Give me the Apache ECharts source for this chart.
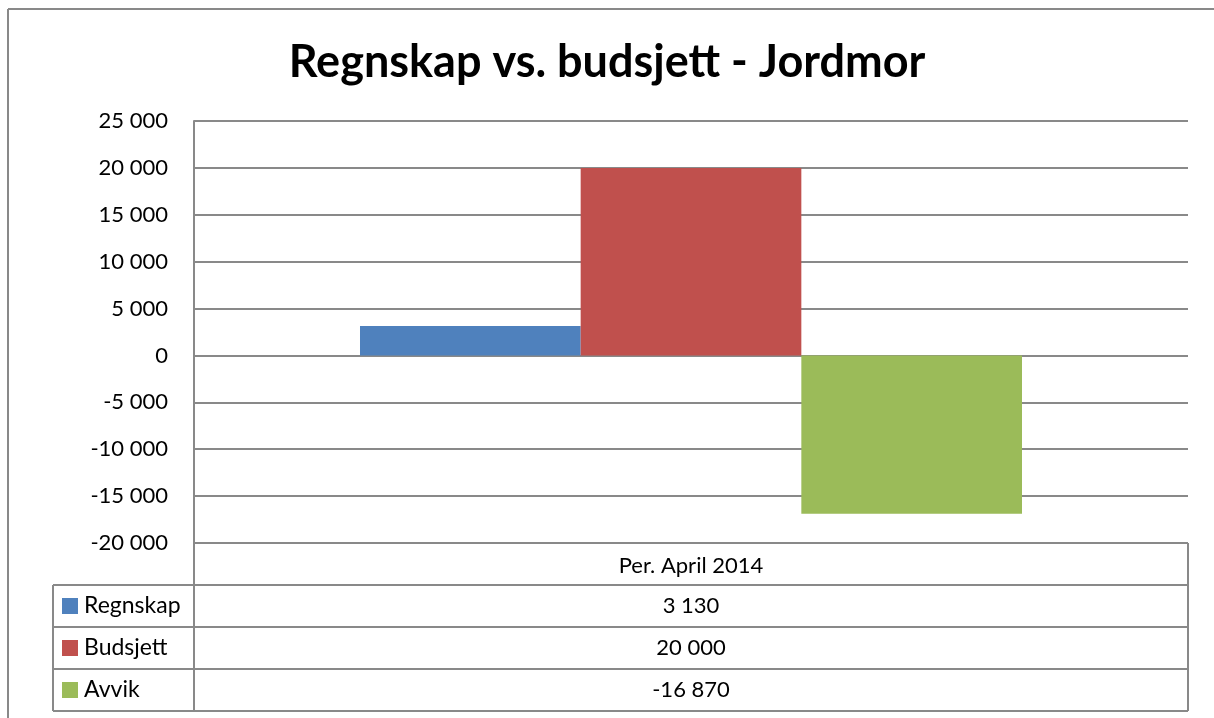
<!DOCTYPE html>
<html>
<head>
<meta charset="utf-8">
<script src="https://cdn.jsdelivr.net/npm/echarts@6/dist/echarts.min.js"></script>
<style>
  html, body { margin: 0; padding: 0; background: #fff; }
  #chart { width: 1214px; height: 718px; }
</style>
</head>
<body>
<div id="chart"></div>
<script>
// data
const categories = ['Per. April 2014']
const seriesNames = ['Regnskap', 'Budsjett', 'Avvik']
const regnskap = [3130]
const budsjett = [20000]
const avvik = [-16870]
const yTicks = [-20000, -15000, -10000, -5000, 0, 5000, 10000, 15000, 20000, 25000]

const colors = ['#4F81BD', '#C0504D', '#9BBB59']
const lineColor = '#898989'
const font = 'Lato, "Open Sans", sans-serif'

// layout (px)
const W = 1214, H = 718
const plotLeft = 194, plotRight = 1188, plotTop = 121, plotBottom = 543
const rowH = 42
const legendLeft = 53

// thousands with space separator, like the original
const fmt = (v) => {
  const s = String(Math.abs(v)).replace(/\B(?=(\d{3})+(?!\d))/g, ' ')
  return (v < 0 ? '-' : '') + s
}

const seriesData = [regnskap, budsjett, avvik]

// data table under the plot
const tableGraphics = []
const line = (x1, y1, x2, y2) => ({
  type: 'line',
  shape: { x1, y1, x2, y2 },
  style: { stroke: lineColor, lineWidth: 2 },
  silent: true
})
const tableTop = plotBottom
const tableBottom = tableTop + rowH * (seriesNames.length + 1)
// verticals
tableGraphics.push(line(plotLeft, tableTop, plotLeft, tableBottom))
tableGraphics.push(line(plotRight, tableTop, plotRight, tableBottom))
tableGraphics.push(line(legendLeft, tableTop + rowH, legendLeft, tableBottom))
// horizontals
for (let i = 1; i <= seriesNames.length + 1; i++) {
  const y = tableTop + rowH * i
  tableGraphics.push(line(legendLeft, y, plotRight, y))
}
seriesNames.forEach((name, i) => {
  const cy = tableTop + rowH * (i + 1) + rowH / 2
  tableGraphics.push({
    type: 'rect',
    shape: { x: legendLeft + 9, y: cy - 8, width: 16, height: 16 },
    style: { fill: colors[i] },
    silent: true
  })
  tableGraphics.push({
    type: 'text',
    x: legendLeft + 31, y: cy,
    style: { text: name, font: '23px ' + font, fill: '#000', textVerticalAlign: 'middle' },
    silent: true
  })
  categories.forEach((c, j) => {
    const colW = (plotRight - plotLeft) / categories.length
    tableGraphics.push({
      type: 'text',
      x: plotLeft + colW * (j + 0.5), y: cy,
      style: { text: fmt(seriesData[i][j]), font: '22px ' + font, fill: '#000', textAlign: 'center', textVerticalAlign: 'middle' },
      silent: true
    })
  })
})

// outer chart border (top + left)
tableGraphics.push(line(8, 9, W, 9))
tableGraphics.push(line(8, 9, 8, H))

const chart = echarts.init(document.getElementById('chart'), null, { renderer: 'canvas' })

chart.setOption({
  animation: false,
  backgroundColor: '#fff',
  title: {
    text: 'Regnskap vs. budsjett - Jordmor',
    left: 'center',
    top: 35,
    textStyle: { fontFamily: font, fontWeight: 'bold', fontSize: 45, color: '#000' }
  },
  grid: {
    left: plotLeft,
    right: W - plotRight,
    top: plotTop,
    bottom: H - plotBottom
  },
  xAxis: {
    type: 'category',
    data: categories,
    axisLine: { show: false },
    axisTick: { show: false },
    axisLabel: { fontFamily: font, fontSize: 22, color: '#000', margin: 12 }
  },
  yAxis: {
    type: 'value',
    min: yTicks[0],
    max: yTicks[yTicks.length - 1],
    interval: 5000,
    axisLine: { show: true, lineStyle: { color: lineColor, width: 2 } },
    axisTick: { show: false },
    splitLine: { lineStyle: { color: lineColor, width: 2 } },
    axisLabel: {
      fontFamily: font, fontSize: 22, color: '#000', margin: 26,
      formatter: (v) => fmt(v)
    }
  },
  series: seriesNames.map((name, i) => ({
    name,
    type: 'bar',
    data: seriesData[i],
    barGap: '0%',
    barCategoryGap: '33.4%',
    itemStyle: { color: colors[i] }
  })),
  graphic: tableGraphics
})
</script>
</body>
</html>
